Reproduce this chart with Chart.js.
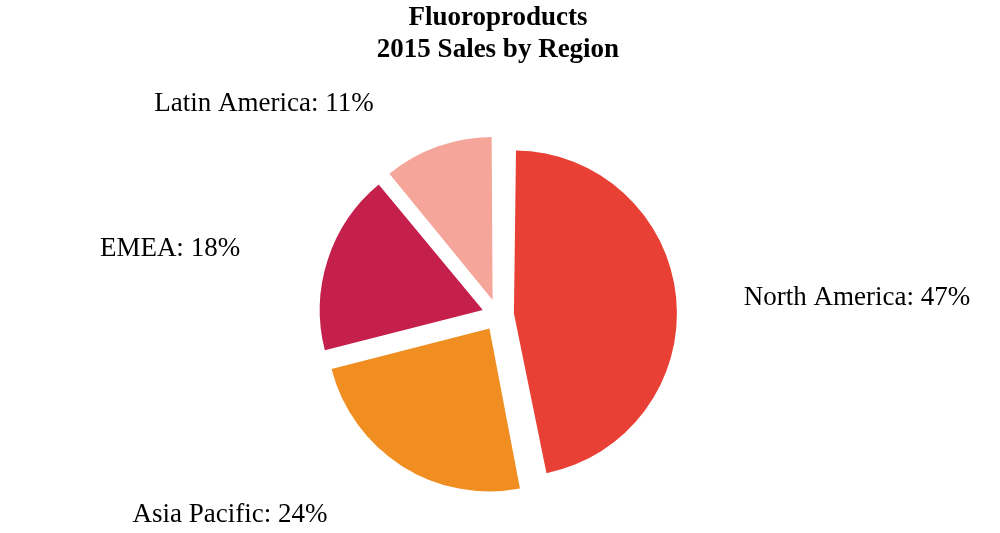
<!DOCTYPE html>
<html>
<head>
<meta charset="utf-8">
<script src="https://cdn.jsdelivr.net/npm/chart.js@4.4.0/dist/chart.umd.min.js"></script>
<style>
  html, body { margin: 0; padding: 0; background: #fff; }
  #wrap { width: 1000px; height: 533px; }
</style>
</head>
<body>
<div id="wrap"><canvas id="pieChart"></canvas></div>
<script>
// Data
const regions = ['North America', 'Asia Pacific', 'EMEA', 'Latin America'];
const shares = [47, 24, 18, 11];
const sliceColors = ['#E84034', '#F18E22', '#C51F4B', '#F6A59A'];

// label anchors relative to the pie centre (text centre x, baseline y)
const labelDx = [359, -268, -328, -234];
const labelDy = [-10, 207, -59, -204];

const PIE_RADIUS = 163;
const EXPLODE = 16; // how far each slice is pulled out
const SERIF = "'Liberation Serif', 'Times New Roman', serif";

// chart.js grows small-ish slices when offset is used, undo that so all slices keep one radius
const equalRadius = {
  id: 'equalRadius',
  afterDatasetUpdate(chart, args) {
    args.meta.data.forEach(arc => {
      const fix = 1 - Math.sin(Math.min(Math.PI, arc.circumference));
      arc.outerRadius = PIE_RADIUS - EXPLODE * fix;
    });
  }
};

// Outside labels
const sliceLabels = {
  id: 'sliceLabels',
  afterDatasetsDraw(chart) {
    const ctx = chart.ctx;
    const arcs = chart.getDatasetMeta(0).data;
    ctx.save();
    ctx.font = '27px ' + SERIF;
    ctx.fillStyle = '#000';
    ctx.textAlign = 'center';
    ctx.textBaseline = 'alphabetic';
    arcs.forEach((arc, i) => {
      const text = regions[i] + ': ' + shares[i] + '%';
      ctx.fillText(text, arc.x + labelDx[i], arc.y + labelDy[i]);
    });
    ctx.restore();
  }
};

const ctx = document.getElementById('pieChart').getContext('2d');
const pieChart = new Chart(ctx, {
  type: 'pie',
  data: {
    labels: regions,
    datasets: [{
      data: shares,
      backgroundColor: sliceColors,
      borderWidth: 0,
      offset: EXPLODE * 4,
      hoverOffset: EXPLODE * 4,
      clip: false
    }]
  },
  options: {
    responsive: true,
    maintainAspectRatio: false,
    devicePixelRatio: 1,
    animation: false,
    radius: PIE_RADIUS,
    layout: {
      padding: { top: 2, left: 0, right: 4, bottom: 0 }
    },
    plugins: {
      legend: { display: false },
      tooltip: { enabled: false },
      title: {
        display: true,
        text: ['Fluoroproducts', '2015 Sales by Region'],
        color: '#000',
        font: { family: SERIF, size: 27, weight: 'bold', lineHeight: 32 / 27 },
        padding: { top: 0, bottom: 31 }
      }
    }
  },
  plugins: [equalRadius, sliceLabels]
});
</script>
</body>
</html>
